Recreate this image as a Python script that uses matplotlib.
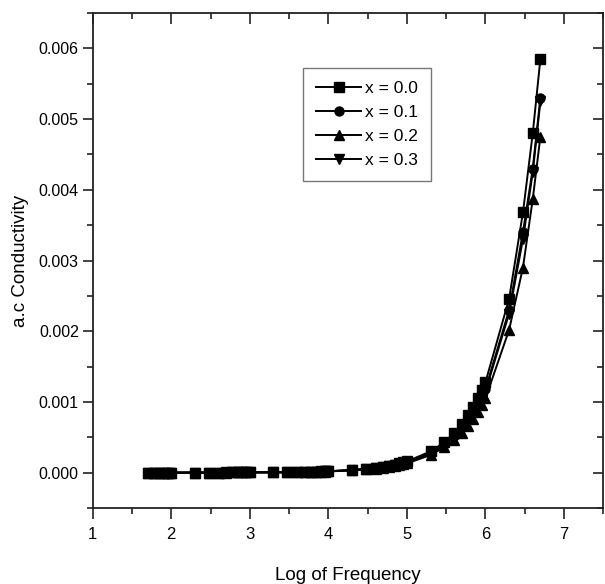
import numpy as np
import matplotlib
matplotlib.use("Agg")
import matplotlib.pyplot as plt
from matplotlib.ticker import MultipleLocator, FormatStrFormatter

plt.rcParams['font.family'] = ['Liberation Sans', 'DejaVu Sans']

# measurement frequencies (Hz)
freq = [50, 60, 70, 80, 90, 100,
        200, 300, 400, 500, 600, 700, 800, 900, 1e3,
        2e3, 3e3, 4e3, 5e3, 6e3, 7e3, 8e3, 9e3, 1e4,
        2e4, 3e4, 4e4, 5e4, 6e4, 7e4, 8e4, 9e4, 1e5,
        2e5, 3e5, 4e5, 5e5, 6e5, 7e5, 8e5, 9e5, 1e6,
        2e6, 3e6, 4e6, 5e6]

# a.c conductivity, in units of 1e-3
sigma_x00 = [0.0003, 0.0004, 0.0004, 0.0005, 0.0005, 0.0006,
             0.0011, 0.0016, 0.0020, 0.0025, 0.0029, 0.0033, 0.0037, 0.0041, 0.0045,
             0.005, 0.007, 0.009, 0.011, 0.013, 0.015, 0.017, 0.019, 0.021,
             0.038, 0.055, 0.070, 0.085, 0.100, 0.115, 0.130, 0.145, 0.160,
             0.30, 0.43, 0.56, 0.69, 0.81, 0.93, 1.05, 1.17, 1.28,
             2.46, 3.68, 4.80, 5.85]
sigma_x01 = [0.0003, 0.0003, 0.0004, 0.0004, 0.0005, 0.0005,
             0.0010, 0.0015, 0.0019, 0.0023, 0.0027, 0.0031, 0.0035, 0.0039, 0.0042,
             0.005, 0.007, 0.008, 0.010, 0.012, 0.014, 0.016, 0.018, 0.020,
             0.036, 0.052, 0.066, 0.080, 0.094, 0.108, 0.122, 0.136, 0.150,
             0.28, 0.40, 0.52, 0.64, 0.75, 0.86, 0.97, 1.08, 1.18,
             2.30, 3.40, 4.30, 5.30]
sigma_x02 = [0.0002, 0.0003, 0.0003, 0.0004, 0.0004, 0.0005,
             0.0009, 0.0013, 0.0017, 0.0021, 0.0024, 0.0028, 0.0031, 0.0034, 0.0037,
             0.004, 0.006, 0.007, 0.009, 0.011, 0.012, 0.014, 0.016, 0.017,
             0.032, 0.046, 0.058, 0.070, 0.082, 0.094, 0.106, 0.118, 0.130,
             0.25, 0.36, 0.46, 0.56, 0.66, 0.76, 0.86, 0.96, 1.05,
             2.02, 2.90, 3.87, 4.75]
sigma_x03 = [0.0003, 0.0003, 0.0004, 0.0004, 0.0005, 0.0005,
             0.0010, 0.0014, 0.0018, 0.0022, 0.0026, 0.0030, 0.0034, 0.0037, 0.0041,
             0.005, 0.006, 0.008, 0.010, 0.012, 0.013, 0.015, 0.017, 0.019,
             0.035, 0.050, 0.064, 0.078, 0.091, 0.104, 0.117, 0.130, 0.143,
             0.27, 0.39, 0.50, 0.61, 0.72, 0.83, 0.94, 1.05, 1.15,
             2.25, 3.30, 4.25, 5.25]

series = [("x = 0.0", sigma_x00, 's'),
          ("x = 0.1", sigma_x01, 'o'),
          ("x = 0.2", sigma_x02, '^'),
          ("x = 0.3", sigma_x03, 'v')]

logf = np.log10(freq)

fig = plt.figure(figsize=(6.05, 5.84), dpi=100)
ax = fig.add_axes([0.1532, 0.1301, 0.8440, 0.8476])

for label, vals, mk in series:
    ax.plot(logf, np.array(vals) * 1e-3, color='black', lw=1.4,
            marker=mk, markersize=6.5, markerfacecolor='black',
            markeredgecolor='black', label=label)

ax.set_xlim(1, 7.5)
ax.set_ylim(-0.0005, 0.0065)
ax.xaxis.set_major_locator(MultipleLocator(1))
ax.xaxis.set_minor_locator(MultipleLocator(0.5))
ax.yaxis.set_major_locator(MultipleLocator(0.001))
ax.yaxis.set_minor_locator(MultipleLocator(0.0005))
ax.yaxis.set_major_formatter(FormatStrFormatter('%.3f'))
ax.xaxis.set_major_formatter(FormatStrFormatter('%d'))

ax.tick_params(axis='both', which='both', colors='#222222', labelcolor='black')
ax.tick_params(axis='x', which='major', direction='out', length=8, width=1.2,
               labelsize=12, top=True, pad=6)
ax.tick_params(axis='x', which='minor', direction='out', length=4, width=1.2, top=True)
ax.tick_params(axis='y', which='major', direction='out', length=7, width=1.2,
               labelsize=11.5, right=True, pad=3)
ax.tick_params(axis='y', which='minor', direction='out', length=4, width=1.2, right=True)
# top and right ticks point inward
for t in ax.xaxis.get_major_ticks() + ax.xaxis.get_minor_ticks():
    t.tick2line.set_marker(matplotlib.lines.TICKDOWN)
for t in ax.yaxis.get_major_ticks() + ax.yaxis.get_minor_ticks():
    t.tick2line.set_marker(matplotlib.lines.TICKLEFT)

for s in ax.spines.values():
    s.set_linewidth(1.3)
    s.set_color('#222222')

ax.set_xlabel('Log of Frequency', fontsize=13.5, labelpad=18)
ax.set_ylabel('a.c Conductivity', fontsize=13.5, labelpad=7)

leg = ax.legend(loc='upper left', bbox_to_anchor=(0.412, 0.889), borderaxespad=0,
                fontsize=12.5, fancybox=False, framealpha=1, edgecolor='#777777',
                handlelength=2.6, handletextpad=0.2, labelspacing=0.5,
                borderpad=0.75)
leg.get_frame().set_linewidth(1.0)

fig.savefig('out.png', dpi=100)
